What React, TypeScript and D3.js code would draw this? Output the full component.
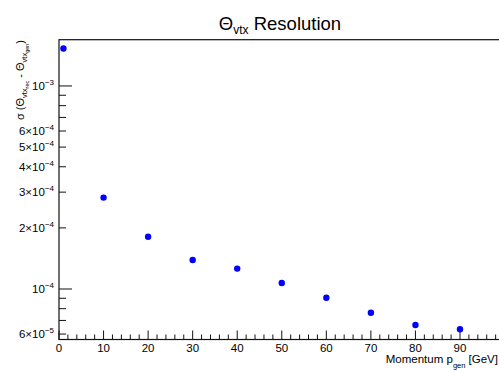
// Θ_vtx resolution vs momentum, ROOT-style log plot drawn with D3
import { useEffect, useRef } from "react"
import * as d3 from "d3"

const momenta = [1, 10, 20, 30, 40, 50, 60, 70, 80, 90]
const resolution = [1.53e-3, 2.82e-4, 1.81e-4, 1.39e-4, 1.26e-4, 1.07e-4, 9.06e-5, 7.64e-5, 6.65e-5, 6.33e-5]

const xTicksMajor = [0, 10, 20, 30, 40, 50, 60, 70, 80, 90]
// [value, mantissa label ("" for pure power), exponent]
const yLabels: [number, string, string][] = [
  [1e-3, "", "−3"],
  [6e-4, "6×", "−4"],
  [5e-4, "5×", "−4"],
  [4e-4, "4×", "−4"],
  [3e-4, "3×", "−4"],
  [2e-4, "2×", "−4"],
  [1e-4, "", "−4"],
  [6e-5, "6×", "−5"],
]

const W = 499
const H = 372
const FONT = "'Liberation Sans', Arial, Helvetica, sans-serif"

export default function App() {
  const svgRef = useRef<SVGSVGElement>(null)

  useEffect(() => {
    if (!svgRef.current) return
    const svg = d3.select(svgRef.current)
    svg.selectAll("*").remove()

    const left = 59, top = 39.7, bottom = 339.5
    const x = d3.scaleLinear().domain([0, 90]).range([left, 460])
    const y = d3.scaleLog().domain([5.64e-5, 1.69e-3]).range([bottom, top])
    const right = x(100)

    // frame
    svg.append("rect")
      .attr("x", left).attr("y", top)
      .attr("width", right - left).attr("height", bottom - top)
      .attr("fill", "none").attr("stroke", "#111").attr("stroke-width", 1.2)

    // x ticks: major every 10, minor every 2
    d3.range(0, 101, 2).forEach(v => {
      const major = v % 10 === 0
      const len = major ? 9 : 5
      svg.append("line")
        .attr("x1", x(v)).attr("x2", x(v))
        .attr("y1", bottom).attr("y2", bottom - len)
        .attr("stroke", "#111").attr("stroke-width", 1)
    })
    svg.append("g").selectAll("text").data(xTicksMajor).join("text")
      .attr("x", d => x(d)).attr("y", 352)
      .attr("text-anchor", "middle")
      .attr("font-family", FONT).attr("font-size", 11.5)
      .text(d => String(d))

    // y ticks: log, majors at decades, minors at 2..9
    const yTickVals: number[] = []
    ;[1e-5, 1e-4, 1e-3].forEach(dec => {
      for (let m = 1; m <= 9; m++) yTickVals.push(m * dec)
    })
    yTickVals
      .filter(v => v >= 5.64e-5 && v <= 1.69e-3)
      .forEach(v => {
        const major = Math.abs(Math.log10(v) - Math.round(Math.log10(v))) < 1e-6
        const len = major ? 13 : 7
        svg.append("line")
          .attr("x1", left).attr("x2", left + len)
          .attr("y1", y(v)).attr("y2", y(v))
          .attr("stroke", "#111").attr("stroke-width", 1)
      })

    yLabels.forEach(([v, mant, exp]) => {
      const t = svg.append("text")
        .attr("x", 54).attr("y", y(v) + 4)
        .attr("text-anchor", "end")
        .attr("font-family", FONT).attr("font-size", 11.5)
      t.append("tspan").text(mant + "10")
      t.append("tspan").attr("dy", -5).attr("font-size", 8).text(exp)
    })

    // points
    svg.append("g").selectAll("circle").data(momenta).join("circle")
      .attr("cx", d => x(d))
      .attr("cy", (_, i) => y(resolution[i]))
      .attr("r", 3.2)
      .attr("fill", "#0000ff")

    // title
    const title = svg.append("text")
      .attr("x", 280).attr("y", 30)
      .attr("text-anchor", "middle")
      .attr("font-family", FONT).attr("font-size", 18.5)
    title.append("tspan").text("Θ")
    title.append("tspan").attr("dy", 4).attr("font-size", 12).text("vtx")
    title.append("tspan").attr("dy", -4).text(" Resolution")

    // x axis title
    const xt = svg.append("text")
      .attr("x", 498).attr("y", 362.5)
      .attr("text-anchor", "end")
      .attr("font-family", FONT).attr("font-size", 11.5)
    xt.append("tspan").text("Momentum p")
    xt.append("tspan").attr("dy", 5).attr("font-size", 7.5).text("gen")
    xt.append("tspan").attr("dy", -5).text(" [GeV]")

    // y axis title (rotated)
    const yt = svg.append("text")
      .attr("transform", `translate(24,40) rotate(-90)`)
      .attr("text-anchor", "end")
      .attr("font-family", FONT).attr("font-size", 11)
    yt.append("tspan").text("σ (Θ")
    yt.append("tspan").attr("dy", 3).attr("font-size", 7.5).text("vtx")
    yt.append("tspan").attr("dy", 2).attr("font-size", 5.5).text("rec")
    yt.append("tspan").attr("dy", -5).text(" - Θ")
    yt.append("tspan").attr("dy", 3).attr("font-size", 7.5).text("vtx")
    yt.append("tspan").attr("dy", 2).attr("font-size", 5.5).text("gen")
    yt.append("tspan").attr("dy", -5).text(")")
  }, [])

  return (
    <div>
      <style>{`body{margin:0;background:#fff}`}</style>
      <svg ref={svgRef} width={W} height={H} style={{ display: "block" }} />
    </div>
  )
}
